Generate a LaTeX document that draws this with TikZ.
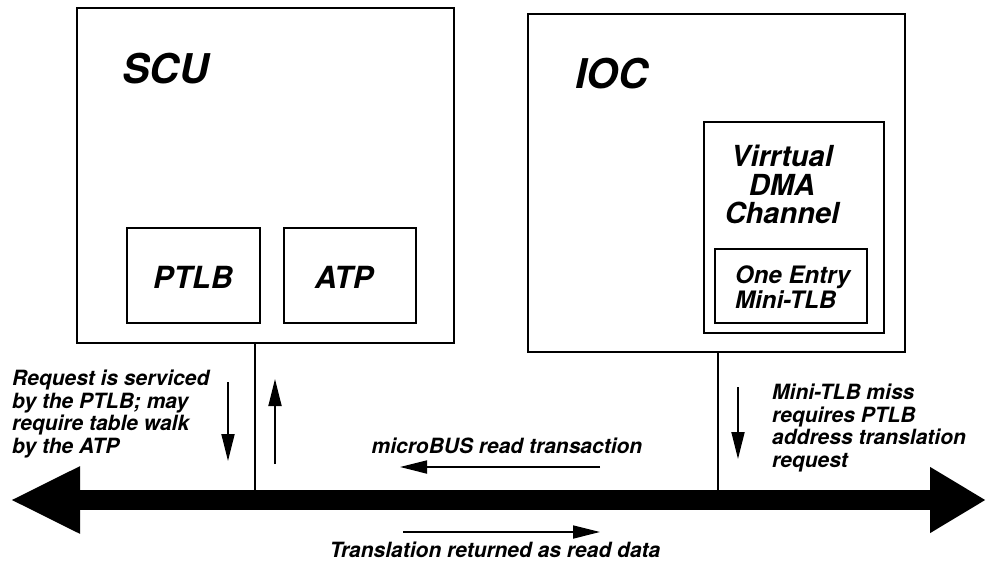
\documentclass[tikz,border=0pt]{standalone}
\usepackage{fontspec}
\setmainfont{TeX Gyre Heros}
\usetikzlibrary{arrows.meta}

\tikzset{
  unitbox/.style={draw, line width=2.8pt, inner sep=0pt},
  subbox/.style={draw, line width=2.4pt, inner sep=0pt},
  lbl/.style={inner sep=0pt, font=\bfseries\itshape},
  wire/.style={line width=2pt},
  flow/.style={line width=1.8pt, -{Triangle[length=27pt,width=13pt]}},
  busline/.style={line width=20pt,
    {Triangle[length=70pt,width=62pt]}-{Triangle[length=56pt,width=62pt]}},
}

\begin{document}
\begin{tikzpicture}[x=1pt,y=-1pt]
\useasboundingbox (0,0) rectangle (986,563);

% system control unit
\node[unitbox, minimum width=377pt, minimum height=335pt] (scu) at (265.5,175.5) {};
\node[lbl, anchor=base west, font=\fontsize{41}{41}\bfseries\itshape] (scut) at (122,83) {SCU};
\node[subbox, minimum width=133pt, minimum height=95pt] (ptlb) at (193.5,275.5) {};
\node[lbl, font=\fontsize{30.5}{30}\bfseries\itshape, anchor=base] (ptlbt) at (193,288) {PTLB};
\node[subbox, minimum width=132pt, minimum height=95pt] (atp) at (350,275.5) {};
\node[lbl, font=\fontsize{30.5}{30}\bfseries\itshape, anchor=base] (atpt) at (344,288) {ATP};

% I/O controller
\node[unitbox, minimum width=377pt, minimum height=338pt] (ioc) at (716.5,183) {};
\node[lbl, anchor=base west, font=\fontsize{41}{41}\bfseries\itshape] (ioct) at (575,88) {IOC};
\node[subbox, minimum width=180pt, minimum height=211pt] (vdma) at (794,227.5) {};
\node[lbl, font=\fontsize{29}{28.5}\bfseries\itshape, align=center, anchor=north] (vdmat) at (782,145) {Virrtual\\DMA\\Channel};
\node[subbox, minimum width=152pt, minimum height=74pt] (mtlb) at (791,286) {};
\node[lbl, font=\fontsize{24}{25}\bfseries\itshape, align=left, anchor=north west] (mtlbt) at (735,265.5) {One Entry\\Mini-TLB};

% bus taps
\coordinate (scuTap) at (255,500);
\coordinate (iocTap) at (718,500);
\draw[wire] (scu.south -| scuTap) -- (scuTap);
\draw[wire] (ioc.south -| iocTap) -- (iocTap);

% microBUS
\coordinate (busL) at (10,500);
\coordinate (busR) at (986,500);
\draw[busline] (busL) -- (busR);

% flow arrows
\coordinate (reqTop) at (228,382);
\coordinate (reqBot) at (228,461);
\draw[flow] (reqTop) -- (reqBot);
\coordinate (repBot) at (275,464);
\coordinate (repTop) at (275,379);
\draw[flow] (repBot) -- (repTop);
\coordinate (missTop) at (738,387);
\coordinate (missBot) at (738,459);
\draw[flow] (missTop) -- (missBot);
\coordinate (rdFrom) at (600,467);
\coordinate (rdTo) at (400,467);
\draw[flow] (rdFrom) -- (rdTo);
\coordinate (retFrom) at (403,532);
\coordinate (retTo) at (600,532);
\draw[flow] (retFrom) -- (retTo);

% annotations
\node[lbl, font=\fontsize{21}{22.5}\bfseries\itshape, align=left, anchor=north west] (reqt) at (12,370)
  {Request is serviced\\by the PTLB; may\\require table walk\\by the ATP};
\node[lbl, font=\fontsize{21}{22.5}\bfseries\itshape, align=left, anchor=north west] (misst) at (772,384)
  {Mini-TLB miss\\requires PTLB\\address translation\\request};
\node[lbl, font=\fontsize{21}{21}\bfseries\itshape, anchor=base] (rdt) at (507,453) {microBUS read transaction};
\node[lbl, font=\fontsize{21}{21}\bfseries\itshape, anchor=base] (rett) at (495,557) {Translation returned as read data};
\end{tikzpicture}
\end{document}
